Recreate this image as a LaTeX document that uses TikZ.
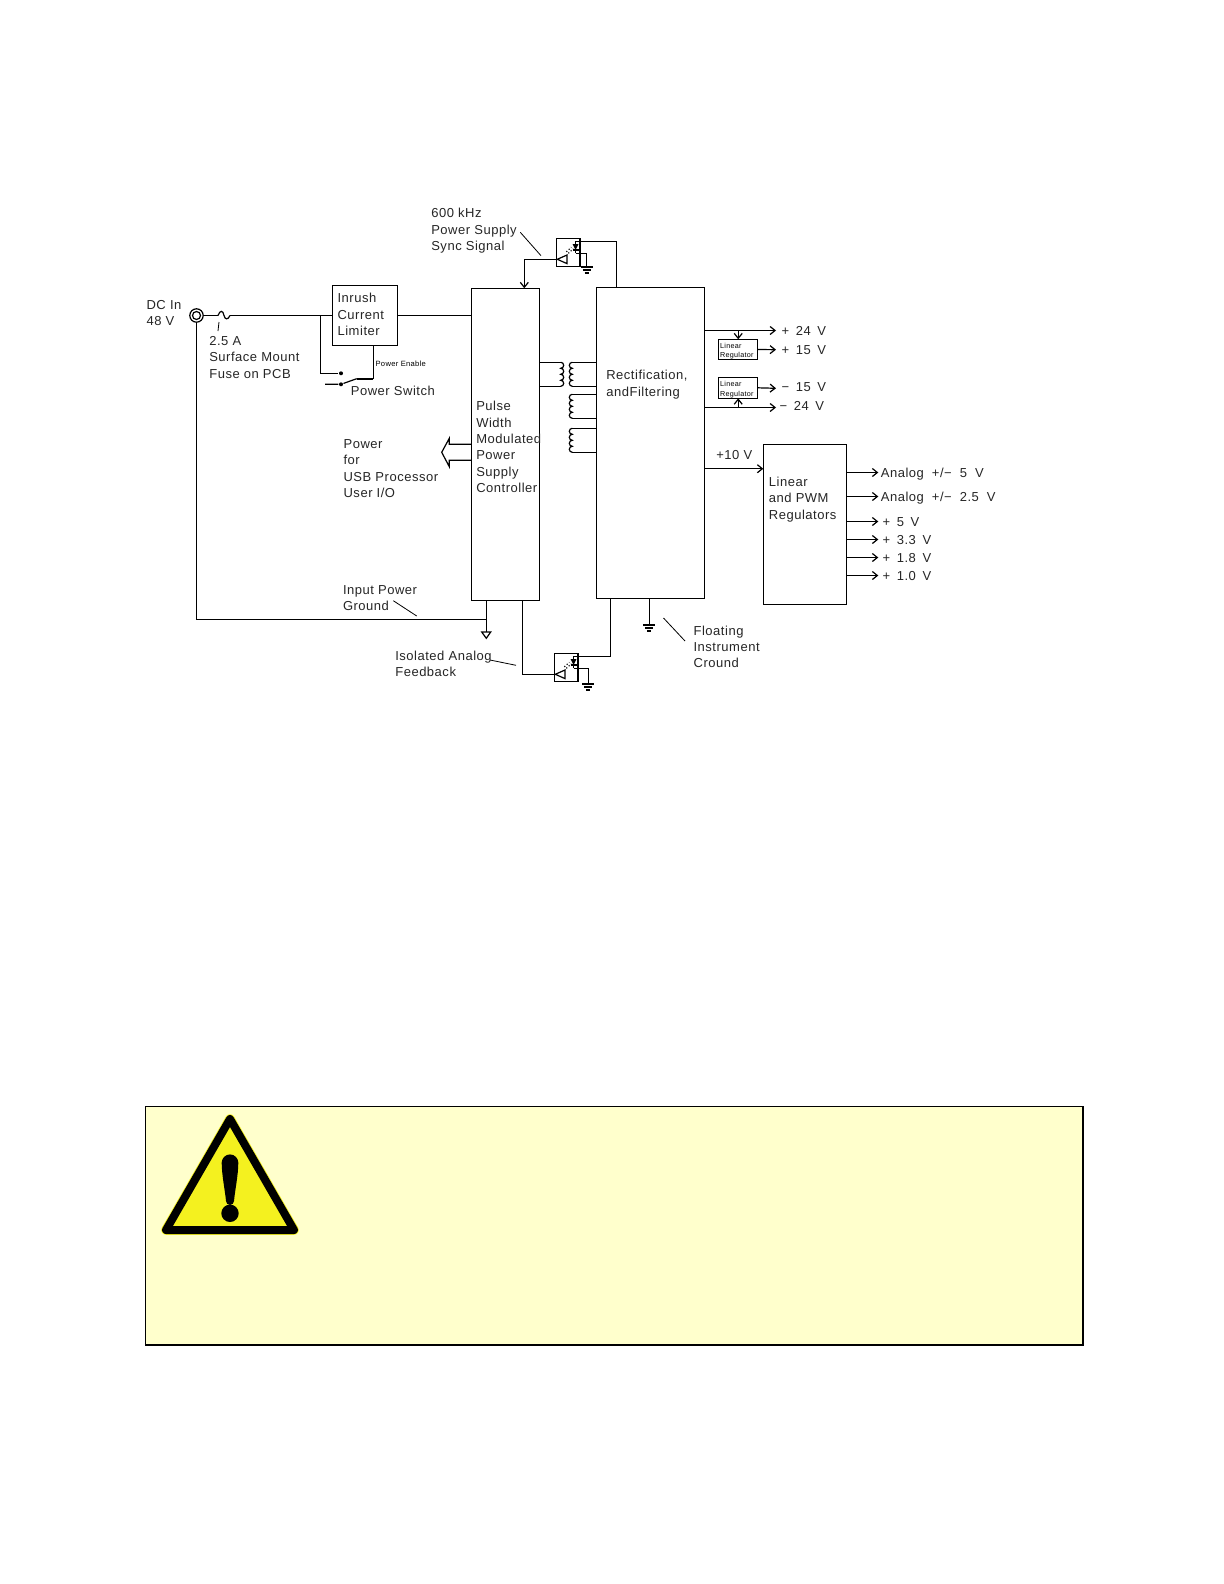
\documentclass[tikz,border=0pt]{standalone}
\usepackage{fontspec}
\setmainfont[LetterSpace=4]{Liberation Sans}
\newcommand{\vgap}{\hskip 3.3pt\relax}
\newcommand{\agap}{\hskip 4pt\relax}
\usetikzlibrary{arrows.meta,positioning,calc}
\definecolor{warnfill}{HTML}{FFFFCC}
\definecolor{warnsign}{HTML}{F4F11F}
\tikzset{
  gnd/.pic={
    \draw (-6,0) -- (6,0);
    \draw (-4,3) -- (4,3);
    \draw (-2,6) -- (2,6);
  },
  coilright/.pic={
    \draw (0,0) arc[start angle=-90,end angle=90,radius=3]
      arc[start angle=-90,end angle=90,radius=3]
      arc[start angle=-90,end angle=90,radius=3]
      arc[start angle=-90,end angle=90,radius=3];
  },
  coilleft/.pic={
    \draw (0,0) arc[start angle=-90,end angle=-270,radius=3]
      arc[start angle=-90,end angle=-270,radius=3]
      arc[start angle=-90,end angle=-270,radius=3]
      arc[start angle=-90,end angle=-270,radius=3];
  },
  optics/.pic={
    \node[draw,line width=.6pt,inner sep=0pt,outer sep=0pt,minimum width=11.8pt,minimum height=14pt,anchor=north west] (box) at (0,0) {};
    \coordinate (out) at (1,21);
    \coordinate (top) at (19.3,3);
    \coordinate (bot) at (19.3,15);
    \draw (out) -- (10.7,16.7) -- (10.7,25.3) -- cycle;
    \fill (16.3,5.7) -- (22.3,5.7) -- (19.3,11.7) -- cycle;
    \draw (16.3,11.7) -- (22.3,11.7);
    \draw (top) -- (bot);
    \draw[densely dotted] (10,13.5) -- (15,9);
    \draw[densely dotted] (12,15) -- (17,10.5);
  },
}
\begin{document}
\begin{tikzpicture}[x=0.5pt,y=-0.5pt,>={Straight Barb[length=2.5pt,width=4pt]},line width=.6pt]
  \tikzstyle{block}=[draw,line width=.6pt,inner sep=0pt,outer sep=0pt,anchor=north west]
  \tikzstyle{lbl}=[anchor=west,inner sep=0pt,align=left,text=black!85,xshift=-.5pt,font=\fontsize{6.5}{8.15}\selectfont]
  \tikzstyle{volt}=[lbl,yshift=-.5pt]
  \tikzstyle{analog}=[lbl,yshift=-1pt]
  \tikzstyle{tiny}=[anchor=west,inner sep=0pt,align=left,font=\fontsize{3.6}{4.8}\selectfont]
  \tikzstyle{leader}=[line width=.4pt]
  \useasboundingbox (0,0) rectangle (1224,1584);
  \fill[white] (0,0) rectangle (1224,1584);

  % blocks
  \node[block,minimum width=32.7pt,minimum height=30pt] (limiter) at (332.3,285.3) {};
  \node[block,minimum width=33.8pt,minimum height=156pt] (pwm) at (471.7,288.3) {};
  \node[block,minimum width=54pt,minimum height=155.5pt] (rect) at (596.3,287.3) {};
  \node[block,minimum width=41.7pt,minimum height=80pt] (linreg) at (763.3,444.3) {};
  \node[block,minimum width=19.5pt,minimum height=10.2pt] (regpos) at (718.7,339.3) {};
  \node[block,minimum width=19.5pt,minimum height=10.5pt] (regneg) at (718.7,377.3) {};

  % block texts
  \node[lbl] (limitertxt) at (338,314.5) {Inrush\\Current\\Limiter};
  \node[lbl] (pwmtxt) at (476.7,447) {Pulse\\Width\\Modulated\\Power\\Supply\\Controller};
  \node[lbl] (recttxt) at (606.7,384.5) {Rectification,\\andFiltering};
  \node[lbl] (linregtxt) at (769.3,499.5) {Linear\\and PWM\\Regulators};
  \node[tiny] (regpostxt) at (719.5,351) {Linear\\Regulator};
  \node[tiny] (regnegtxt) at (719.5,389.5) {Linear\\Regulator};

  % input side
  \node[draw,circle,inner sep=0pt,outer sep=0pt,minimum size=6.7pt] (jack) at (196.5,315.5) {};
  \node[draw,circle,inner sep=0pt,minimum size=4pt] (jackin) at (196.5,315.5) {};
  \coordinate (fusea) at (218,315.5);
  \coordinate (fuseb) at (230,315.5);
  \coordinate (tap) at (320.3,315.5);
  \coordinate (retcorner) at (196.5,619.5);
  \coordinate (gndtap) at (486.3,619.5);
  \draw (jack.east) -- (fusea);
  \draw (fusea) .. controls (220,310) and (223,310) .. (224,315.5) .. controls (225,320) and (228,320) .. (fuseb);
  \draw (fuseb) -- (limiter.west |- fuseb);
  \draw (limiter.east |- tap) -- (pwm.west |- tap);
  \draw (jack.south) -- (retcorner) -- (gndtap);
  \draw[leader] (219,322) -- (218,331);
  \node[lbl] (dcin) at (147,313) {DC In\\48 V};
  \node[lbl] (fuse) at (209.7,357.5) {2.5 A\\Surface Mount\\Fuse on PCB};

  % power switch
  \node[circle,fill,inner sep=0pt,minimum size=2pt] (contacta) at (341,373.3) {};
  \node[circle,fill,inner sep=0pt,minimum size=2pt] (contactb) at (341,384.3) {};
  \coordinate (swfree) at (325,384.3);
  \coordinate (swarm) at (356.7,378.7);
  \coordinate (swend) at (373.3,378.7);
  \draw (tap) |- (contacta);
  \draw (swfree) -- (contactb) -- (swarm);
  \draw[line width=1.2pt] (swarm) -- (swend);
  \draw (swend) -- (limiter.south -| swend);
  \node[tiny,font=\fontsize{3.8}{5}\selectfont] (enable) at (375,364) {Power Enable};
  \node[lbl] (switch) at (351.3,391) {Power Switch};

  % usb power arrow
  \coordinate (usbtip) at (441.7,452.3);
  \draw (pwm.west |- 0,444.3) -- (449.3,444.3) -- (449.3,438.3) -- (usbtip) -- (449.3,466.7) -- (449.3,460.3) -- (pwm.west |- 0,460.3);
  \node[lbl] (usb) at (344,468.5) {Power\\for\\USB Processor\\User I/O};

  % sync feedback
  \pic (syncopt-) at (556.3,238.3) {optics};
  \coordinate (syncgnd) at (586.7,267);
  \pic at (syncgnd) {gnd};
  \draw (syncopt-top) -| (616.3,287.3);
  \draw (syncopt-bot) -| (syncgnd);
  \draw[->] (syncopt-out) -| (524.3,288.3);
  \draw[leader] (520.3,232.3) -- (541,255.7);
  \node[lbl] (synctxt) at (431.7,230.7) {600 kHz\\Power Supply\\Sync Signal};

  % analog feedback
  \pic (fbopt-) at (554.3,653.3) {optics};
  \coordinate (fbgnd) at (588.3,684);
  \pic at (fbgnd) {gnd};
  \draw (fbopt-top) -| (610.7,598.3);
  \draw (fbopt-bot) -| (fbgnd);
  \draw (fbopt-out) -| (522.3,600.3);
  \draw[leader] (490,660) -- (516,665.3);
  \node[lbl] (fbtxt) at (395.7,663.7) {Isolated Analog\\Feedback};

  % grounds
  \coordinate (inputgnd) at (486.3,632);
  \draw (486.3,600.3) -- (inputgnd);
  \draw (481.7,632) -- (490.7,632) -- (486.3,638.3) -- cycle;
  \draw[leader] (393.3,600.7) -- (416.7,616);
  \node[lbl] (inputtxt) at (343.4,598) {Input Power\\Ground};
  \coordinate (floatgnd) at (649.3,625);
  \draw (649.3,598.3) -- (floatgnd);
  \pic at (floatgnd) {gnd};
  \draw[leader] (663.5,618) -- (685,641);
  \node[lbl] (floattxt) at (694,647) {Floating\\Instrument\\Cround};

  % transformer
  \pic at (560.7,362.3) {coilright};
  \pic at (572.3,362.3) {coilleft};
  \pic at (572.3,394.3) {coilleft};
  \pic at (572.3,428.3) {coilleft};
  \draw (pwm.east |- 0,362.3) -- (560.7,362.3);
  \draw (pwm.east |- 0,386.3) -- (560.7,386.3);
  \draw (572.3,362.3) -- (rect.west |- 0,362.3);
  \draw (572.3,386.3) -- (rect.west |- 0,386.3);
  \draw (572.3,394.3) -- (rect.west |- 0,394.3);
  \draw (572.3,418.3) -- (rect.west |- 0,418.3);
  \draw (572.3,428.3) -- (rect.west |- 0,428.3);
  \draw (572.3,452.3) -- (rect.west |- 0,452.3);

  % rectifier outputs
  \coordinate (p24) at (776,330.5);
  \coordinate (n24) at (776,407.5);
  \draw[->] (rect.east |- p24) -- (p24);
  \draw[->] (rect.east |- n24) -- (n24);
  \draw[->] (regpos.north |- p24) -- (regpos.north);
  \draw[->] (regneg.south |- n24) -- (regneg.south);
  \draw[->] (regpos.east) -- (776,349.7);
  \draw[->] (regneg.east) -- (776,388.3);
  \draw[->] (rect.east |- 0,468.7) -- (linreg.west |- 0,468.7);
  \node[volt] (lp24) at (782,330) {+\vgap 24\vgap V};
  \node[volt] (lp15) at (782,348.7) {+\vgap 15\vgap V};
  \node[volt] (ln15) at (782,386) {−\vgap 15\vgap V};
  \node[volt] (ln24) at (780,405) {−\vgap 24\vgap V};
  \node[lbl] (lp10) at (716.7,455) {+10 V};

  % regulator outputs
  \foreach \yy/\name/\txt in {472.5/aa/{Analog\agap +/−\agap 5\agap V},496.5/ab/{Analog\agap +/−\agap 2.5\agap V}}{
    \draw[->] (linreg.east |- 0,\yy) -- (878.3,\yy);
    \node[analog] (out\name) at (881.3,\yy) {\txt};
  }
  \foreach \yy/\name/\txt in {521.5/pa/{+\vgap 5\vgap V},539.5/pb/{+\vgap 3.3\vgap V},557.5/pc/{+\vgap 1.8\vgap V},575.5/pd/{+\vgap 1.0\vgap V}}{
    \draw[->] (linreg.east |- 0,\yy) -- (878.3,\yy);
    \node[volt] (out\name) at (883,\yy) {\txt};
  }

  % warning panel
  \node[block,fill=warnfill,minimum width=468.8pt,minimum height=119.4pt] (warnbox) at (145.7,1106.3) {};
  \draw[line width=1pt] (warnbox.north east) -- (warnbox.south east) -- (warnbox.south west);
  \draw[draw=warnsign,line width=4.8pt,line join=round,fill=warnsign] (230,1119) -- (294,1230) -- (166,1230) -- cycle;
  \draw[line width=4pt,line join=round] (230,1119) -- (294,1230) -- (166,1230) -- cycle;
  \fill (221.7,1162.7) arc[start angle=180,end angle=360,radius=8.3] .. controls (238.3,1175) and (235,1190) .. (234,1201) arc[start angle=0,end angle=180,radius=4] .. controls (225,1190) and (221.7,1175) .. cycle;
  \fill (230,1213.3) circle[radius=8.7];
\end{tikzpicture}
\end{document}
